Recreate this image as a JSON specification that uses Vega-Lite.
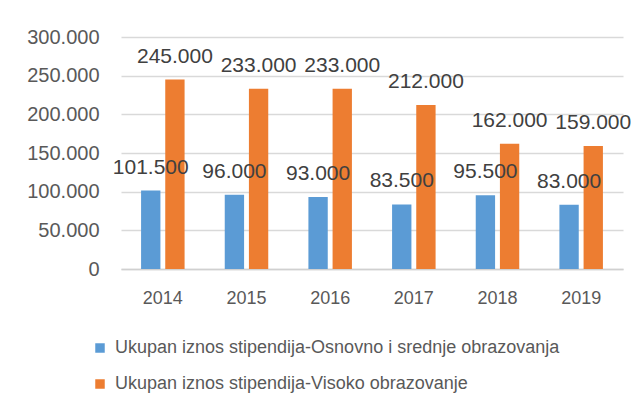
{
  "$schema": "https://vega.github.io/schema/vega-lite/v6.json",
  "width": 502,
  "height": 232,
  "autosize": {"type": "none"},
  "padding": {"left": 121, "top": 37, "right": 17, "bottom": 141},
  "background": "white",
  "config": {
    "view": {"stroke": null},
    "locale": {"number": {"decimal": ",", "thousands": ".", "grouping": [3], "currency": ["", ""]}},
    "font": "Liberation Sans"
  },
  "data": {
    "values": [
      {"year": "2014", "series": "Ukupan iznos stipendija-Osnovno i srednje obrazovanja", "value": 101500},
      {"year": "2014", "series": "Ukupan iznos stipendija-Visoko obrazovanje", "value": 245000},
      {"year": "2015", "series": "Ukupan iznos stipendija-Osnovno i srednje obrazovanja", "value": 96000},
      {"year": "2015", "series": "Ukupan iznos stipendija-Visoko obrazovanje", "value": 233000},
      {"year": "2016", "series": "Ukupan iznos stipendija-Osnovno i srednje obrazovanja", "value": 93000},
      {"year": "2016", "series": "Ukupan iznos stipendija-Visoko obrazovanje", "value": 233000},
      {"year": "2017", "series": "Ukupan iznos stipendija-Osnovno i srednje obrazovanja", "value": 83500},
      {"year": "2017", "series": "Ukupan iznos stipendija-Visoko obrazovanje", "value": 212000},
      {"year": "2018", "series": "Ukupan iznos stipendija-Osnovno i srednje obrazovanja", "value": 95500},
      {"year": "2018", "series": "Ukupan iznos stipendija-Visoko obrazovanje", "value": 162000},
      {"year": "2019", "series": "Ukupan iznos stipendija-Osnovno i srednje obrazovanja", "value": 83000},
      {"year": "2019", "series": "Ukupan iznos stipendija-Visoko obrazovanje", "value": 159000}
    ]
  },
  "encoding": {
    "x": {
      "field": "year", "type": "nominal",
      "scale": {"paddingInner": 0.48, "paddingOuter": 0.24},
      "axis": {
        "title": null, "labelAngle": 0, "labelFontSize": 18, "labelColor": "#595959",
        "ticks": false, "domain": true, "domainColor": "#d0d0d0", "domainWidth": 1.5, "labelPadding": 20
      }
    },
    "xOffset": {
      "field": "series", "type": "nominal",
      "scale": {"paddingInner": 0.2}
    },
    "y": {
      "field": "value", "type": "quantitative",
      "scale": {"domain": [0, 300000], "nice": false},
      "axis": {
        "title": null, "values": [0, 50000, 100000, 150000, 200000, 250000, 300000],
        "format": ",.0f", "labelFontSize": 20, "labelColor": "#595959",
        "ticks": false, "domain": false, "labelPadding": 22,
        "gridColor": "#d9d9d9", "gridWidth": 1.5
      }
    }
  },
  "layer": [
    {
      "mark": {"type": "bar"},
      "encoding": {
        "color": {
          "field": "series", "type": "nominal",
          "scale": {"range": ["#5B9BD5", "#ED7D31"]},
          "legend": {
            "title": null, "orient": "none", "legendX": -30, "legendY": 302,
            "direction": "vertical", "symbolType": "square", "symbolSize": 90,
            "symbolStrokeWidth": 0, "labelFontSize": 18, "labelColor": "#595959",
            "rowPadding": 18, "labelOffset": 6, "labelLimit": 600
          }
        }
      }
    },
    {
      "mark": {"type": "text", "baseline": "middle", "dy": -23, "fontSize": 21, "color": "#404040"},
      "encoding": {
        "text": {"field": "value", "type": "quantitative", "format": ",.0f"}
      }
    }
  ]
}
